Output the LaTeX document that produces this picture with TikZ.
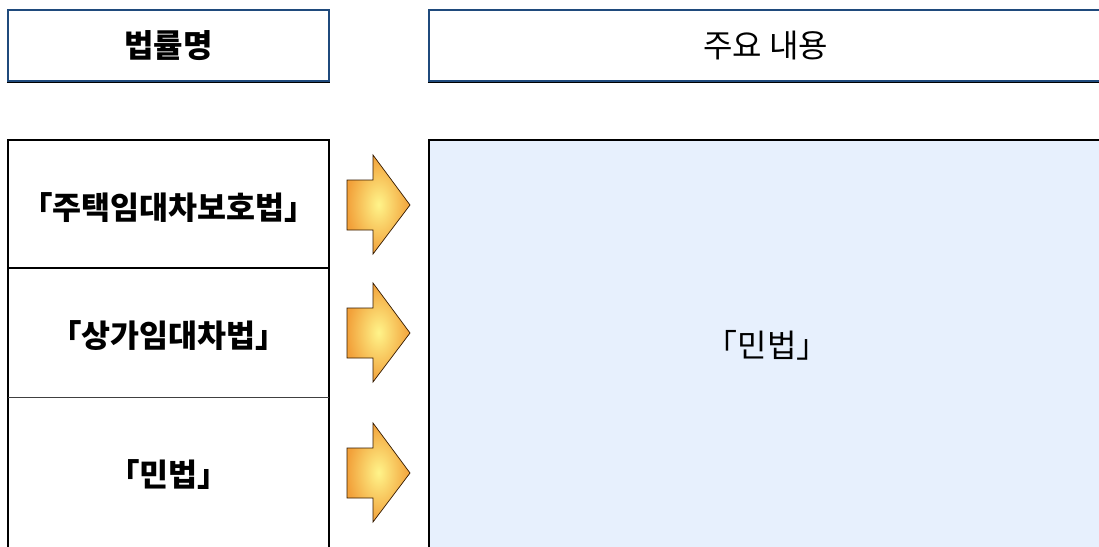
\documentclass[tikz,border=0pt]{standalone}
\usepackage{fontspec}
\newfontfamily\kr{Noto Sans CJK KR}
\usepackage{tikz}
\usetikzlibrary{positioning, calc}
\definecolor{hdrblue}{HTML}{1F4A7C}
\definecolor{paleblue}{HTML}{E7F0FD}
\definecolor{arrowgold}{HTML}{F2A13A}
\definecolor{arrowglow}{HTML}{FFF48A}

\begin{document}
\begin{tikzpicture}[x=1pt,y=-1pt,line join=miter,
    every node/.style={font=\kr\fontsize{32}{36}\selectfont},
    hdrbox/.style={draw=hdrblue, line width=2.5pt, minimum height=71pt, inner sep=0pt},
    rowbox/.style={minimum width=321pt, inner sep=0pt},
    lawtext/.style={font=\kr\bfseries\fontsize{31.5}{36}\selectfont}]
    \useasboundingbox (0,0) rectangle (1099,546);
        % headers
        \node[hdrbox, minimum width=321pt, font=\kr\bfseries\fontsize{32}{36}\selectfont] (hdrlaw) at (168.5,45.5) {법률명};
        \node[hdrbox, minimum width=673pt] (hdrmain) at (765.5,45.5) {주요 내용};
        \draw[line width=1.5pt] (hdrlaw.south west) -- (hdrlaw.south east);
        \draw[line width=1.5pt] (hdrmain.south west) -- (hdrmain.south east);
        % left column
        \node[rowbox, minimum height=128pt] (rowhouse) at (168.5,204) {};
        \node[rowbox, minimum height=129pt, below=0pt of rowhouse] (rowshop) {};
        \node[rowbox, minimum height=154pt, below=0pt of rowshop] (rowcivil) {};
        \node[lawtext] at ($(rowhouse.center)+(0,4)$) {「주택임대차보호법」};
        \node[lawtext] at ($(rowshop.center)+(0,3)$) {「상가임대차법」};
        \node[lawtext] at ($(rowcivil.center)+(0,0)$) {「민법」};
        \draw[line width=2pt] (rowhouse.north west) rectangle (rowcivil.south east);
        \draw[line width=2pt] (rowhouse.south west) -- (rowhouse.south east);
        \draw[line width=.8pt, black!75] (rowshop.south west) -- (rowshop.south east);
        % main content
        \node[draw, line width=2pt, fill=paleblue, minimum width=673pt, minimum height=420pt,
              inner sep=0pt] (content) at (765.5,350) {};
        \node at (767,345) {「민법」};
        % arrows
        \foreach \yc/\nm in {205/ahouse, 333/ashop, 473/acivil}{
            \coordinate (\nm) at (347,\yc);
            \shade[draw=black!80!orange, line width=.7pt, inner color=arrowglow, outer color=arrowgold]
                (\nm) ++(0,-25) -- ++(26,0) -- ++(0,-25) -- ++(37,50) -- ++(-37,49)
                -- ++(0,-24) -- ++(-26,0) -- cycle;
        }
      \end{tikzpicture}
\end{document}
